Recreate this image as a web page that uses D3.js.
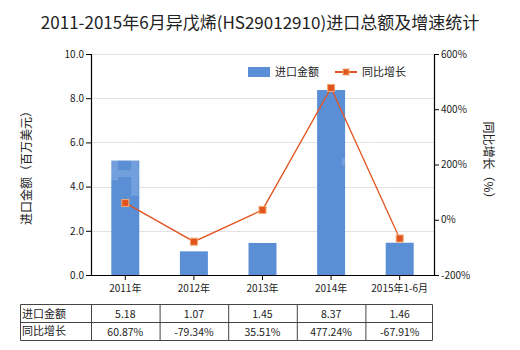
<!DOCTYPE html>
<html><head><meta charset="utf-8">
<script src="https://cdn.jsdelivr.net/npm/d3@7"></script>
<style>body{margin:0;background:#fff}svg{display:block;font-family:"Noto Sans CJK SC","Noto Sans",sans-serif}</style>
</head><body><svg id="c" width="520" height="350"></svg>
<script>
const categories = ["2011年","2012年","2013年","2014年","2015年1-6月"];
const importValues = [5.18,1.07,1.45,8.37,1.46];
const growthValues = [60.87,-79.34,35.51,477.24,-67.91];
const importLabels = ["5.18","1.07","1.45","8.37","1.46"];
const growthLabels = ["60.87%","-79.34%","35.51%","477.24%","-67.91%"];
const leftTicks = [0,2,4,6,8,10];
const rightTicks = [-200,0,200,400,600];

const svg = d3.select("#c");
const L=91, R=434, T=54, B=275;
const xc = d3.scaleBand().domain(categories).range([L,R]);
const yL = d3.scaleLinear().domain([0,10]).range([B,T]);
const yR = d3.scaleLinear().domain([-200,600]).range([B,T]);
const blue="#5a8fd6", red="#e2541f";

svg.append("text").attr("x",260).attr("y",29).attr("text-anchor","middle").attr("font-size",17).attr("fill","#222")
  .text("2011-2015年6月异戊烯(HS29012910)进口总额及增速统计");

// grid
svg.append("g").selectAll("line").data(leftTicks.filter(d=>d>0)).join("line")
  .attr("x1",L).attr("x2",R).attr("y1",d=>Math.round(yL(d))+0.5).attr("y2",d=>Math.round(yL(d))+0.5)
  .attr("stroke","#e3e3e3");

// bars
svg.append("g").selectAll("rect").data(importValues).join("rect")
  .attr("x",(d,i)=>xc(categories[i])+xc.bandwidth()/2-14).attr("width",28)
  .attr("y",d=>yL(d)).attr("height",d=>B-yL(d)).attr("fill",blue);

// watermark
svg.append("text").attr("x",262).attr("y",190).attr("text-anchor","middle").attr("font-size",58)
  .attr("font-weight","bold").attr("fill","#fff").attr("opacity",0.15).attr("letter-spacing",20).text("中研咨询");

// axes
const axL = svg.append("g").attr("transform",`translate(${L},0)`)
  .call(d3.axisLeft(yL).tickValues(leftTicks).tickFormat(d3.format(".1f")).tickSize(5).tickPadding(2));
const axR = svg.append("g").attr("transform",`translate(${R},0)`)
  .call(d3.axisRight(yR).tickValues(rightTicks).tickFormat(d=>d+"%").tickSize(5).tickPadding(2));
const axB = svg.append("g").attr("transform",`translate(0,${B})`)
  .call(d3.axisBottom(xc).tickSize(5).tickPadding(5));
[axL,axR,axB].forEach(a=>{a.select(".domain").attr("stroke","#000").attr("stroke-width",1.2);
  a.selectAll(".tick line").attr("stroke","#000");
  a.selectAll("text").attr("font-size",10).attr("fill","#222").attr("font-family","'Noto Sans CJK SC',sans-serif");});
axB.select(".domain").attr("d",`M${L},0.5H${R}`);

// line
const line = d3.line().x((d,i)=>xc(categories[i])+xc.bandwidth()/2).y(d=>yR(d));
svg.append("path").datum(growthValues).attr("d",line).attr("fill","none").attr("stroke",red).attr("stroke-width",1.3);
svg.append("g").selectAll("rect").data(growthValues).join("rect")
  .attr("x",(d,i)=>xc(categories[i])+xc.bandwidth()/2-3.5).attr("y",d=>yR(d)-3.5)
  .attr("width",7).attr("height",7).attr("fill",red).attr("stroke","#f3a96f").attr("stroke-width",1);

// axis titles
svg.append("text").attr("transform","translate(31,165) rotate(-90)").attr("text-anchor","middle")
  .attr("font-size",12).attr("fill","#222").text("进口金额（百万美元）");
svg.append("text").attr("transform","translate(484,163) rotate(90)").attr("text-anchor","middle")
  .attr("font-size",12).attr("fill","#222").text("同比增长（%）");

// legend
svg.append("rect").attr("x",248).attr("y",67).attr("width",22).attr("height",10).attr("fill",blue);
svg.append("text").attr("x",275).attr("y",76).attr("font-size",11).attr("fill","#222").text("进口金额");
svg.append("line").attr("x1",335).attr("x2",357).attr("y1",72).attr("y2",72).attr("stroke",red).attr("stroke-width",2);
svg.append("rect").attr("x",343).attr("y",69).attr("width",6).attr("height",6).attr("fill",red).attr("stroke","#f3a96f");
svg.append("text").attr("x",362).attr("y",76).attr("font-size",11).attr("fill","#222").text("同比增长");

// table
const tT=304.5, tM=322.5, tB=340.5, tL=20.5;
const tb = svg.append("g");
const colX = [tL].concat(categories.map(c=>xc(c)+0.5)).concat([R+0.5-2]);
tb.selectAll("line.v").data(colX).join("line").attr("x1",d=>d).attr("x2",d=>d).attr("y1",tT).attr("y2",tB).attr("stroke","#444");
[tT,tM,tB].forEach(y=>tb.append("line").attr("x1",tL).attr("x2",colX[colX.length-1]).attr("y1",y).attr("y2",y).attr("stroke","#444"));
tb.append("text").attr("x",22).attr("y",318).attr("font-size",11).attr("fill","#222").text("进口金额");
tb.append("text").attr("x",22).attr("y",335).attr("font-size",11).attr("fill","#222").text("同比增长");
tb.selectAll("text.a").data(importLabels).join("text").attr("class","a")
  .attr("x",(d,i)=>xc(categories[i])+xc.bandwidth()/2).attr("y",318).attr("text-anchor","middle").attr("font-size",10.5).attr("fill","#222").text(d=>d);
tb.selectAll("text.g").data(growthLabels).join("text").attr("class","g")
  .attr("x",(d,i)=>xc(categories[i])+xc.bandwidth()/2).attr("y",336).attr("text-anchor","middle").attr("font-size",10.5).attr("fill","#222").text(d=>d);
</script></body></html>
